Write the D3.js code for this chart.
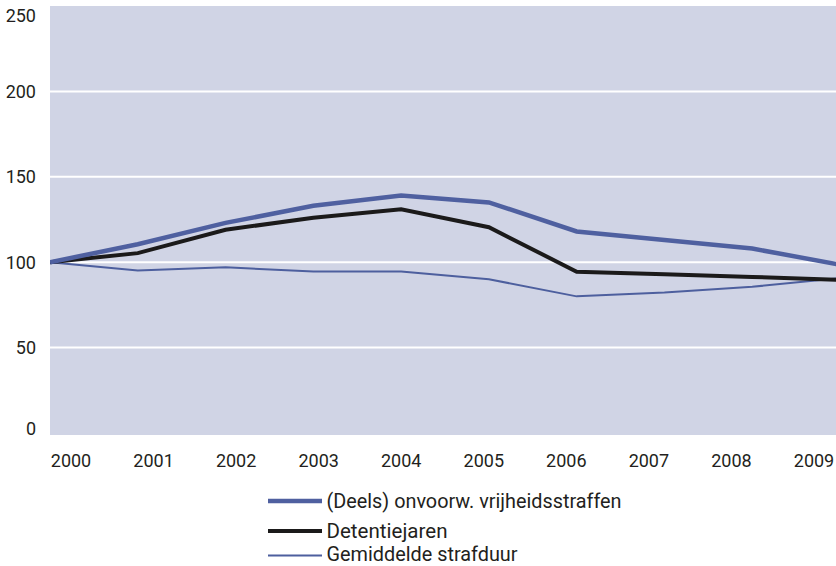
<!DOCTYPE html>
<html><head><meta charset="utf-8">
<script src="https://cdn.jsdelivr.net/npm/d3@7"></script>
<style>
html,body{margin:0;padding:0;background:#fff;overflow:hidden}
svg{display:block}
text{font-family:Roboto,"Liberation Sans",sans-serif;fill:#231f20}
</style></head>
<body>
<svg id="c" width="836" height="566"></svg>
<script>
const years = [2000,2001,2002,2003,2004,2005,2006,2007,2008,2009];
const yTicks = [0,50,100,150,200,250];
const seriesNames = ["(Deels) onvoorw. vrijheidsstraffen","Detentiejaren","Gemiddelde strafduur"];
const vrijheidsstraffen = [100,110.5,123,133,139,135,118,113,108,98.5];
const detentiejaren = [100,105.3,119,126,131,120.5,94.4,93,91.4,89.7];
const strafduur = [100,95.1,97,94.5,94.5,90,80,82.2,85.6,90.7];

const svg = d3.select("#c");
const W = 836, H = 566;
const plotL = 50, plotT = 6, plotB = 435;

const x = d3.scalePoint().domain(years).range([50, 840]);
const xLab = d3.scalePoint().domain(years).range([71, 814]);
const y = d3.scaleLinear().domain([0,250]).range([433, 6]);

const defs = svg.append("defs");
defs.append("clipPath").attr("id","clip").append("rect")
  .attr("x",plotL).attr("y",plotT).attr("width",W-plotL).attr("height",plotB-plotT);

svg.append("rect").attr("x",plotL).attr("y",plotT).attr("width",W-plotL).attr("height",plotB-plotT)
  .attr("fill","#d0d4e5");

const g = svg.append("g").attr("clip-path","url(#clip)");
g.selectAll("line.grid").data(yTicks.filter(t=>t>0 && t<250)).join("line")
  .attr("x1",plotL).attr("x2",W).attr("y1",d=>y(d)).attr("y2",d=>y(d))
  .attr("stroke","#fff").attr("stroke-width",2);

// y labels
svg.selectAll("text.yl").data(yTicks).join("text")
  .attr("x",36).attr("y",d=> d===250 ? 16 : (d===0 ? 429 : y(d)))
  .attr("dy","0.36em").attr("text-anchor","end").attr("font-size",18).text(d=>d);

// x labels
svg.selectAll("text.xl").data(years).join("text")
  .attr("x",d=>xLab(d)).attr("y",461).attr("dy","0.36em").attr("text-anchor","middle")
  .attr("font-size",18).text(d=>d);

const line = d3.line().x((d,i)=>x(years[i])).y(d=>y(d));
const styles = [
  {data: vrijheidsstraffen, color:"#4f60a0", w:4.5},
  {data: detentiejaren, color:"#1b1a1a", w:4},
  {data: strafduur, color:"#4d5f9e", w:2}
];
[2,1,0].forEach(i=>{
  const s = styles[i];
  g.append("path").datum(s.data).attr("d",line).attr("fill","none")
    .attr("stroke",s.color).attr("stroke-width",s.w).attr("stroke-linejoin","miter");
});

// legend
const legY = [501, 531, 555.5];
const legBase = [507.5, 537.5, 561];
const legLen = [295, 121, 191];
styles.forEach((s,i)=>{
  svg.append("line").attr("x1",268).attr("x2",322).attr("y1",legY[i]).attr("y2",legY[i])
    .attr("stroke",s.color).attr("stroke-width",s.w);
  svg.append("text").attr("x",326.5).attr("y",legBase[i])
    .attr("font-size",21).attr("textLength",legLen[i]).attr("lengthAdjust","spacingAndGlyphs")
    .text(seriesNames[i]);
});
</script>
</body></html>
